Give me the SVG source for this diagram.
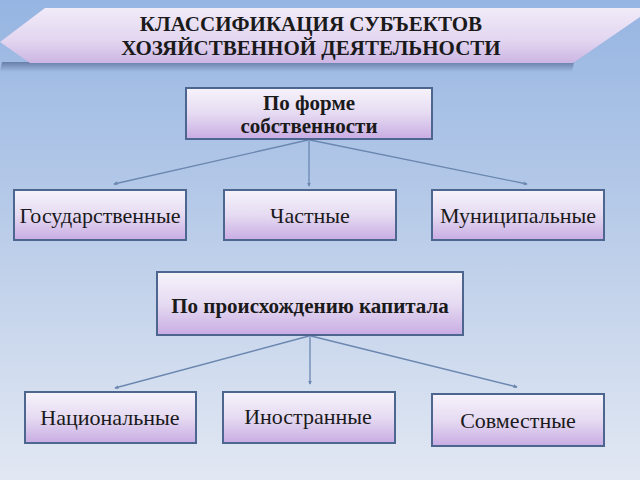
<svg xmlns="http://www.w3.org/2000/svg" width="640" height="480" viewBox="0 0 640 480">
<defs>
<linearGradient id="bg" x1="0" y1="0" x2="0" y2="1">
<stop offset="0" stop-color="#96b5e2"/>
<stop offset="0.55" stop-color="#bfd0ea"/>
<stop offset="1" stop-color="#e2e8f3"/>
</linearGradient>
<linearGradient id="boxg" x1="0" y1="0" x2="0" y2="1">
<stop offset="0" stop-color="#f6f3fb"/>
<stop offset="0.5" stop-color="#e6dbf2"/>
<stop offset="1" stop-color="#c8ace3"/>
</linearGradient>
<linearGradient id="bang" x1="0" y1="0" x2="0" y2="1">
<stop offset="0" stop-color="#f1ebf8"/>
<stop offset="0.6" stop-color="#e2d5f0"/>
<stop offset="1" stop-color="#cdb6e3"/>
</linearGradient>
<linearGradient id="shad" x1="0" y1="0" x2="0" y2="1">
<stop offset="0" stop-color="#5a6f9a" stop-opacity="0.8"/>
<stop offset="1" stop-color="#5a6f9a" stop-opacity="0"/>
</linearGradient>
<marker id="ah" viewBox="0 0 6 6" refX="5" refY="3" markerWidth="4" markerHeight="4" orient="auto" markerUnits="userSpaceOnUse">
<path d="M0,0 L6,3 L0,6 z" fill="#6b87b0"/>
</marker>
</defs>
<rect x="0" y="0" width="640" height="480" fill="url(#bg)"/>
<g id="banner">
<polygon points="2,62 574,62 572,72 0,72" fill="url(#shad)"/>
<polygon points="45,8 640,8 640,17 573,63 30,63 0,42" fill="url(#bang)"/>
<text x="311" y="31" font-family="Liberation Serif" font-size="21" font-weight="bold" text-anchor="middle" fill="#1a1a1a">КЛАССИФИКАЦИЯ СУБЪЕКТОВ</text>
<text x="311" y="55" font-family="Liberation Serif" font-size="21" font-weight="bold" text-anchor="middle" fill="#1a1a1a">ХОЗЯЙСТВЕННОЙ ДЕЯТЕЛЬНОСТИ</text>
</g>
<g id="connectors" stroke="#6b87b0" stroke-width="1.3" fill="none">
<line x1="308" y1="140" x2="114" y2="184" marker-end="url(#ah)"/>
<line x1="309" y1="140" x2="309" y2="186" marker-end="url(#ah)"/>
<line x1="310" y1="140" x2="527" y2="184" marker-end="url(#ah)"/>
<line x1="309" y1="336" x2="115" y2="388" marker-end="url(#ah)"/>
<line x1="310" y1="336" x2="310" y2="384" marker-end="url(#ah)"/>
<line x1="311" y1="336" x2="517" y2="387" marker-end="url(#ah)"/>
</g>
<g id="n_form">
<rect x="186" y="88" width="246" height="51" fill="url(#boxg)" stroke="#4d6690" stroke-width="2"/>
<text x="309" y="110" font-family="Liberation Serif" font-size="21" font-weight="bold" text-anchor="middle" fill="#1a1a1a">По форме</text>
<text x="309" y="133" font-family="Liberation Serif" font-size="21" font-weight="bold" text-anchor="middle" fill="#1a1a1a">собственности</text>
</g>
<g id="n_gos">
<rect x="14" y="190" width="172" height="50" fill="url(#boxg)" stroke="#4d6690" stroke-width="2"/>
<text x="100" y="223" font-family="Liberation Serif" font-size="22" text-anchor="middle" fill="#1a1a1a">Государственные</text>
</g>
<g id="n_chast">
<rect x="224" y="190" width="172" height="50" fill="url(#boxg)" stroke="#4d6690" stroke-width="2"/>
<text x="310" y="223" font-family="Liberation Serif" font-size="22" text-anchor="middle" fill="#1a1a1a">Частные</text>
</g>
<g id="n_mun">
<rect x="432" y="190" width="172" height="50" fill="url(#boxg)" stroke="#4d6690" stroke-width="2"/>
<text x="518" y="223" font-family="Liberation Serif" font-size="22" text-anchor="middle" fill="#1a1a1a">Муниципальные</text>
</g>
<g id="n_cap">
<rect x="157" y="272" width="306" height="63" fill="url(#boxg)" stroke="#4d6690" stroke-width="2"/>
<text x="310" y="313" font-family="Liberation Serif" font-size="21" font-weight="bold" text-anchor="middle" fill="#1a1a1a">По происхождению капитала</text>
</g>
<g id="n_nac">
<rect x="25" y="392" width="171" height="51" fill="url(#boxg)" stroke="#4d6690" stroke-width="2"/>
<text x="110" y="425" font-family="Liberation Serif" font-size="22" text-anchor="middle" fill="#1a1a1a">Национальные</text>
</g>
<g id="n_ino">
<rect x="223" y="392" width="172" height="51" fill="url(#boxg)" stroke="#4d6690" stroke-width="2"/>
<text x="308" y="424" font-family="Liberation Serif" font-size="22" text-anchor="middle" fill="#1a1a1a">Иностранные</text>
</g>
<g id="n_sov">
<rect x="432" y="394" width="172" height="52" fill="url(#boxg)" stroke="#4d6690" stroke-width="2"/>
<text x="518" y="428" font-family="Liberation Serif" font-size="22" text-anchor="middle" fill="#1a1a1a">Совместные</text>
</g>
</svg>
